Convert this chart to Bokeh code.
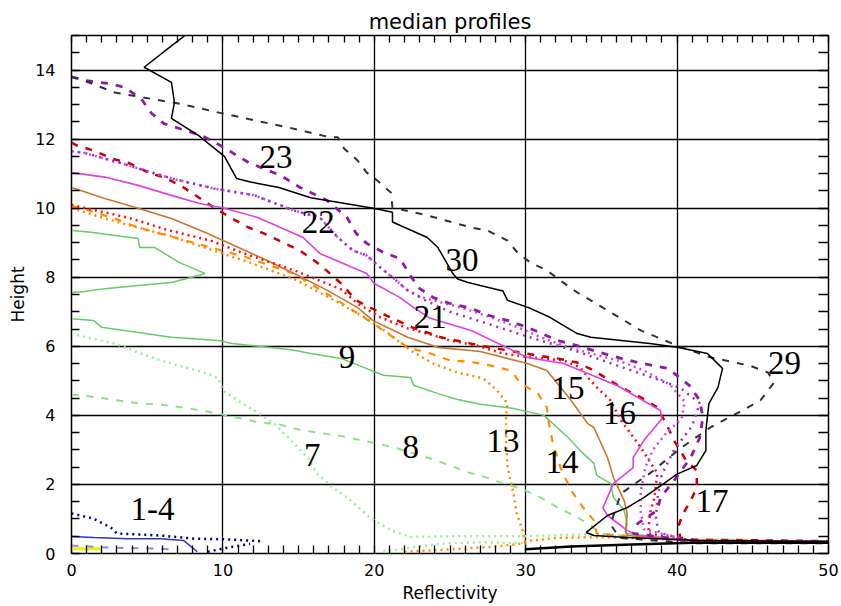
from bokeh.plotting import figure
from bokeh.models import Range1d, LinearAxis, SingleIntervalTicker, FixedTicker
from bokeh.core.properties import value
from bokeh.embed import file_html
from bokeh.resources import INLINE

# ---------------- data ----------------
s30_x = [7.5, 6.6, 4.8, 6.6, 6.8, 6.6, 8.4, 10.1, 10.9, 11.9, 13.7, 15.8, 19.95, 21.2, 21.2, 23.5, 24.2, 25.2, 25.5, 26.2, 27.0, 28.5, 28.8, 30.3, 31.6, 33.4, 34.3, 38.2, 40.0, 42.0, 43.0, 42.7, 42.1, 41.9, 41.9, 41.3, 40.0, 37.8, 36.7, 35.4, 34.0, 34.5, 36.7, 41.5, 50.0]
s30_y = [15.0, 14.7, 14.08, 13.64, 13.06, 12.6, 12.1, 11.5, 10.86, 10.75, 10.6, 10.3, 10.0, 9.88, 9.6, 9.15, 8.86, 8.1, 7.95, 7.85, 7.76, 7.6, 7.33, 7.1, 6.84, 6.37, 6.26, 6.08, 5.97, 5.79, 5.36, 4.81, 4.34, 3.56, 2.98, 2.55, 2.3, 1.62, 1.33, 1.1, 0.61, 0.52, 0.46, 0.38, 0.35]

base_x = [30.0, 33.0, 37.0, 41.0, 50.0]
base_y = [0.12, 0.2, 0.26, 0.31, 0.31]

s29_x = [0.0, 0.46, 2.84, 7.07, 9.4, 12.1, 14.3, 17.1, 17.6, 18.0, 18.9, 19.5, 20.2, 21.1, 21.2, 23.5, 26.4, 27.5, 28.8, 29.5, 30.3, 31.4, 32.3, 33.4, 34.3, 35.4, 36.5, 37.6, 40.0, 42.2, 44.8, 46.0, 46.4, 45.5, 43.7, 42.2, 40.2, 38.2, 36.3, 35.6, 36.2, 41.0, 50.0]
s29_y = [13.8, 13.76, 13.35, 13.03, 12.8, 12.54, 12.34, 12.05, 12.05, 11.73, 11.38, 11.03, 10.8, 10.45, 10.02, 9.79, 9.44, 9.35, 9.06, 8.69, 8.43, 8.2, 7.9, 7.56, 7.33, 7.04, 6.75, 6.46, 6.02, 5.68, 5.44, 5.24, 4.95, 4.43, 4.0, 3.65, 3.04, 2.32, 1.74, 0.85, 0.45, 0.3, 0.3]

s23_x = [0.0, 0.86, 2.44, 3.5, 4.6, 5.3, 6.1, 8.6, 9.9, 11.7, 13.8, 15.1, 16.9, 18.2, 18.8, 19.5, 20.6, 21.7, 22.3, 22.9, 23.9, 25.0, 26.4, 27.5, 28.8, 30.1, 32.1, 33.4, 34.9, 36.3, 37.4, 39.4, 40.8, 41.5, 41.7, 41.5, 40.9, 39.8, 38.9, 38.7, 37.4, 37.1, 41.0, 50.0]
s23_y = [13.8, 13.7, 13.61, 13.5, 13.17, 12.74, 12.45, 12.1, 11.8, 11.32, 10.95, 10.6, 10.22, 9.73, 9.27, 8.98, 8.72, 8.54, 8.11, 7.7, 7.41, 7.24, 7.1, 6.9, 6.75, 6.55, 6.17, 6.02, 5.82, 5.65, 5.53, 5.36, 4.87, 4.43, 3.94, 3.36, 2.78, 2.11, 1.62, 1.25, 0.87, 0.58, 0.36, 0.34]

s22_x = [0.0, 0.86, 3.3, 6.6, 9.4, 12.1, 14.7, 16.4, 17.6, 18.6, 19.5, 20.4, 21.3, 22.2, 23.1, 25.9, 27.7, 29.5, 31.0, 32.5, 34.3, 36.1, 37.8, 39.5, 40.5, 40.3, 39.3, 38.4, 37.9, 37.6, 37.6, 37.8, 41.0, 50.0]
s22_y = [11.65, 11.6, 11.3, 10.86, 10.57, 10.37, 9.93, 9.73, 9.15, 8.77, 8.63, 8.28, 7.96, 7.62, 7.42, 7.1, 6.84, 6.55, 6.26, 6.02, 5.79, 5.59, 5.3, 4.9, 4.4, 3.9, 3.5, 3.0, 2.5, 1.8, 1.2, 0.7, 0.36, 0.34]

s21_x = [0.0, 0.86, 3.3, 6.6, 9.4, 12.1, 14.7, 16.4, 17.6, 18.6, 19.5, 20.4, 21.3, 22.2, 23.5, 25.0, 27.5, 30.0, 33.4, 36.0, 38.0, 40.2, 41.5, 41.0, 39.8, 39.0, 38.7, 38.6, 38.8, 41.0, 50.0]
s21_y = [11.65, 11.6, 11.3, 10.86, 10.57, 10.37, 9.93, 9.73, 9.15, 8.77, 8.63, 8.28, 7.96, 7.62, 7.3, 7.0, 6.65, 6.3, 5.85, 5.45, 5.15, 4.8, 4.35, 3.7, 3.0, 2.3, 1.6, 1.0, 0.6, 0.36, 0.34]

mag_x = [0.0, 2.2, 4.4, 6.6, 8.4, 10.1, 12.3, 15.3, 16.4, 19.5, 20.0, 21.7, 22.6, 23.7, 26.4, 30.1, 32.5, 34.9, 36.1, 38.9, 39.0, 37.8, 37.1, 37.1, 35.8, 35.1, 35.4, 36.7, 37.4, 41.0, 50.0]
mag_y = [11.03, 10.9, 10.66, 10.37, 10.14, 10.0, 9.73, 9.15, 8.69, 8.11, 7.82, 7.41, 7.12, 6.81, 6.46, 5.68, 5.5, 5.07, 4.85, 4.14, 3.9, 3.27, 2.78, 2.49, 2.03, 1.33, 1.1, 0.67, 0.52, 0.37, 0.35]

s17_x = [0.0, 0.33, 1.45, 2.64, 3.83, 5.1, 6.3, 7.4, 8.4, 9.4, 10.6, 11.7, 12.7, 14.0, 15.1, 16.2, 17.1, 17.8, 18.8, 20.5, 22.5, 24.4, 27.0, 30.8, 32.1, 33.4, 34.5, 35.6, 36.7, 37.6, 38.7, 39.4, 39.8, 40.6, 41.3, 41.3, 40.9, 40.4, 40.1, 40.2, 41.1, 50.0]
s17_y = [11.9, 11.82, 11.67, 11.44, 11.3, 11.03, 10.86, 10.6, 10.31, 10.02, 9.7, 9.44, 9.27, 9.0, 8.77, 8.43, 8.1, 7.82, 7.33, 6.95, 6.55, 6.26, 6.02, 5.73, 5.65, 5.53, 5.3, 5.0, 4.72, 4.52, 4.23, 3.65, 3.27, 2.69, 2.4, 1.91, 1.53, 1.16, 0.81, 0.46, 0.4, 0.36]

s16_x = [0.0, 0.13, 3.7, 6.5, 9.2, 11.4, 14.7, 17.8, 18.9, 20.4, 22.2, 23.5, 25.0, 26.8, 28.5, 30.3, 32.5, 33.6, 34.1, 34.7, 35.6, 36.3, 37.6, 38.7, 38.5, 38.2, 38.1, 41.0, 50.0]
s16_y = [10.1, 10.08, 9.73, 9.35, 9.06, 8.69, 8.2, 7.65, 7.24, 6.84, 6.52, 6.37, 6.17, 6.02, 5.79, 5.68, 5.59, 5.39, 5.1, 4.81, 4.43, 3.85, 3.07, 2.32, 1.62, 1.16, 0.58, 0.37, 0.35]

s15_x = [0.0, 2.2, 4.4, 6.6, 8.8, 12.5, 14.7, 16.9, 18.9, 19.9, 22.2, 24.2, 27.0, 30.1, 31.4, 32.1, 33.0, 34.1, 34.5, 35.4, 35.8, 36.5, 36.7, 36.6, 36.7, 41.0, 50.0]
s15_y = [10.6, 10.28, 10.0, 9.7, 9.3, 8.57, 8.11, 7.62, 7.12, 6.75, 6.26, 5.97, 5.85, 5.5, 5.3, 4.92, 4.43, 3.76, 3.65, 2.78, 2.2, 1.53, 1.16, 0.67, 0.52, 0.38, 0.35]

s14_x = [0.0, 0.66, 2.84, 4.4, 9.2, 11.6, 14.7, 17.5, 19.3, 20.6, 22.2, 23.7, 25.0, 26.4, 27.7, 29.0, 29.7, 30.8, 31.4, 31.5, 31.8, 32.3, 33.0, 33.8, 34.5, 34.7, 38.0, 41.0, 50.0]
s14_y = [10.05, 10.0, 9.7, 9.44, 8.86, 8.57, 8.1, 7.35, 6.84, 6.46, 5.97, 5.79, 5.59, 5.55, 5.44, 5.3, 4.92, 4.63, 4.23, 3.85, 3.18, 2.49, 1.82, 1.33, 0.96, 0.58, 0.45, 0.38, 0.35]

s13_x = [0.0, 3.0, 6.5, 9.2, 11.6, 14.7, 17.5, 19.5, 21.0, 22.4, 23.9, 25.5, 27.2, 28.1, 28.8, 28.7, 28.7, 28.8, 29.2, 29.4, 29.8, 29.9, 32.0, 35.0, 41.0, 50.0]
s13_y = [10.0, 9.6, 9.2, 8.8, 8.45, 7.95, 7.3, 6.8, 6.35, 5.88, 5.5, 5.24, 5.07, 4.72, 4.34, 4.0, 3.27, 2.49, 1.74, 1.16, 0.67, 0.35, 0.45, 0.48, 0.38, 0.35]
s13b_x = [22.0, 25.0, 28.0, 30.0]
s13b_y = [0.05, 0.12, 0.2, 0.3]

s9_x = [0.0, 1.45, 2.0, 4.4, 6.6, 9.7, 10.6, 14.5, 15.8, 17.8, 19.3, 20.6, 22.4, 22.6, 24.2, 25.5, 27.0, 29.2, 31.2, 32.8, 33.6, 34.5, 34.7, 35.6, 35.8, 36.5, 36.7, 36.6, 41.0, 50.0]
s9_y = [6.8, 6.75, 6.55, 6.4, 6.26, 6.17, 6.08, 5.9, 5.79, 5.65, 5.39, 5.16, 5.1, 4.87, 4.63, 4.46, 4.32, 4.2, 4.0, 3.36, 2.98, 2.61, 2.26, 2.03, 1.62, 1.25, 0.87, 0.58, 0.38, 0.35]

s10_x = [0.0, 1.3, 2.84, 4.4, 4.5, 5.5, 7.1, 8.8, 8.4, 6.6, 4.4, 2.2, 0.86, 0.0]
s10_y = [9.35, 9.3, 9.21, 9.12, 8.86, 8.86, 8.43, 8.11, 8.05, 7.85, 7.76, 7.67, 7.59, 7.56]

s8_x = [0.0, 0.66, 2.2, 3.5, 4.6, 5.9, 7.3, 8.6, 9.9, 11.2, 12.5, 13.7, 14.7, 16.2, 17.6, 19.9, 21.3, 22.6, 23.7, 25.0, 26.2, 27.0, 28.3, 29.7, 31.0, 32.1, 33.2, 34.3, 34.9, 38.0, 41.0, 50.0]
s8_y = [4.6, 4.58, 4.49, 4.4, 4.34, 4.31, 4.23, 4.14, 4.03, 3.91, 3.79, 3.74, 3.62, 3.5, 3.42, 3.21, 3.07, 2.9, 2.75, 2.55, 2.35, 2.26, 2.06, 1.88, 1.62, 1.33, 1.1, 0.81, 0.58, 0.45, 0.38, 0.35]

s7_x = [0.0, 1.3, 2.84, 4.4, 5.9, 7.5, 9.0, 9.7, 10.0, 11.0, 12.3, 13.4, 14.7, 15.6, 16.2, 17.1, 18.2, 19.7, 21.1, 22.4, 26.0, 30.0, 34.1, 36.0]
s7_y = [6.37, 6.23, 6.08, 5.82, 5.59, 5.39, 5.21, 5.07, 4.72, 4.43, 4.08, 3.76, 3.18, 2.78, 2.32, 1.97, 1.62, 1.04, 0.67, 0.48, 0.5, 0.5, 0.56, 0.5]
s7b_x = [20.6, 22.4, 24.6, 27.0, 30.0]
s7b_y = [0.05, 0.17, 0.29, 0.32, 0.3]

s1_x = [0.0, 1.45, 2.6, 3.0, 5.9, 8.1, 10.3, 12.7]
s1_y = [1.16, 1.01, 0.75, 0.58, 0.52, 0.43, 0.41, 0.35]
s1b_x = [9.0, 10.3, 11.8]
s1b_y = [0.05, 0.17, 0.28]
s2_x = [0.0, 1.45, 3.7, 5.9, 7.4, 8.3]
s2_y = [0.49, 0.46, 0.43, 0.43, 0.38, 0.05]
s3_x = [0.0, 2.6, 5.9, 6.5]
s3_y = [0.23, 0.17, 0.14, 0.12]
s4_x = [0.0, 2.0]
s4_y = [0.14, 0.14]

lab_text = ["23", "22", "30", "21", "9", "15", "16", "29", "13", "8", "7", "14", "17", "1-4"]
lab_x = [13.5, 16.3, 25.8, 23.7, 18.2, 32.8, 36.2, 47.1, 28.5, 22.4, 15.9, 32.4, 42.3, 5.35]
lab_y = [11.47, 9.59, 8.49, 6.86, 5.68, 4.78, 4.08, 5.53, 3.27, 3.07, 2.84, 2.64, 1.53, 1.3]

# tick positions
x_minor = [float(v) for v in range(0, 51)]
y_minor = [v * 0.5 for v in range(0, 31)]

# ---------------- figure ----------------
p = figure(width=841, height=606, x_range=Range1d(0, 50), y_range=Range1d(0, 15),
           output_backend="svg", toolbar_location=None, title="median profiles",
           min_border_left=71, min_border_right=13, min_border_top=35, min_border_bottom=53)
p.title.align = "center"
p.title.text_font = "DejaVu Sans"
p.title.text_font_size = "21px"
p.title.text_font_style = "normal"
p.title.text_color = "black"
p.title.standoff = 4
p.outline_line_color = "black"
p.outline_line_width = 1.5
p.background_fill_color = "white"
p.border_fill_color = "white"

xt = SingleIntervalTicker(interval=10, num_minor_ticks=10)
yt = SingleIntervalTicker(interval=2, num_minor_ticks=4)

for ax in p.xaxis:
    ax.ticker = xt
    ax.axis_label = "Reflectivity"
    ax.major_label_standoff = 10
    ax.axis_label_standoff = 4
for ax in p.yaxis:
    ax.ticker = yt
    ax.axis_label = "Height"
    ax.major_label_standoff = 16
    ax.axis_label_standoff = 4

for ax in list(p.xaxis) + list(p.yaxis):
    ax.major_label_text_font = "DejaVu Sans"
    ax.major_label_text_font_size = "16px"
    ax.major_label_text_color = "black"
    ax.axis_label_text_font = "DejaVu Sans"
    ax.axis_label_text_font_size = "17px"
    ax.axis_label_text_font_style = "normal"
    ax.axis_label_text_color = "black"
    ax.axis_line_color = "black"
    ax.major_tick_in = 0
    ax.major_tick_out = 0
    ax.minor_tick_in = 8
    ax.minor_tick_out = 0
    ax.minor_tick_line_color = "black"
    ax.minor_tick_line_width = 1.3

top_ax = LinearAxis(ticker=FixedTicker(ticks=[], minor_ticks=x_minor),
                    major_tick_in=0, major_tick_out=0, minor_tick_in=7, minor_tick_out=0,
                    minor_tick_line_color="black", minor_tick_line_width=1.3, axis_line_color="black")
right_ax = LinearAxis(ticker=FixedTicker(ticks=[], minor_ticks=y_minor),
                      major_tick_in=0, major_tick_out=0, minor_tick_in=10, minor_tick_out=0,
                      minor_tick_line_color="black", minor_tick_line_width=1.3, axis_line_color="black")
p.add_layout(top_ax, "above")
p.add_layout(right_ax, "right")

p.xgrid.ticker = xt
p.ygrid.ticker = yt
for g in (p.xgrid, p.ygrid):
    g.grid_line_color = "black"
    g.grid_line_width = 1.3
    g.grid_line_alpha = 1.0

# ---------------- lines ----------------
DOT = "2 4"
DASH = "7 8"
p.line(s4_x, s4_y, line_color="#f0f000", line_width=3)
p.line(s3_x, s3_y, line_color="#8c8ce0", line_width=2, line_dash=DASH)
p.line(s2_x, s2_y, line_color="#3434c4", line_width=1.5)
p.line(s1_x, s1_y, line_color="#000080", line_width=2.5, line_dash=DOT)
p.line(s1b_x, s1b_y, line_color="#000080", line_width=2.5, line_dash=DOT)

p.line(s7_x, s7_y, line_color="#9cee9c", line_width=2.5, line_dash=DOT)
p.line(s7b_x, s7b_y, line_color="#9cee9c", line_width=2.5, line_dash=DOT)
p.line(s8_x, s8_y, line_color="#90e090", line_width=2, line_dash=DASH)
p.line(s10_x, s10_y, line_color="#66cc66", line_width=1.5)
p.line(s9_x, s9_y, line_color="#66cc66", line_width=1.5)

p.line(s13_x, s13_y, line_color="#ff8c00", line_width=2.5, line_dash=DOT)
p.line(s13b_x, s13b_y, line_color="#ff8c00", line_width=2.5, line_dash=DOT)
p.line(s14_x, s14_y, line_color="#ff8c00", line_width=2.2, line_dash=DASH)
p.line(s15_x, s15_y, line_color="#c8782e", line_width=1.6)

p.line(s16_x, s16_y, line_color="#ff1010", line_width=2.5, line_dash=DOT)
p.line(s17_x, s17_y, line_color="#cc0000", line_width=2.5, line_dash=DASH)

p.line(mag_x, mag_y, line_color="#e040e0", line_width=1.6)
p.line(s22_x, s22_y, line_color="#c050e0", line_width=2.5, line_dash=DOT)
p.line(s21_x, s21_y, line_color="#9a30c8", line_width=2.5, line_dash="2 5")
p.line(s23_x, s23_y, line_color="#8e1ca0", line_width=2.8, line_dash=DASH)

p.line(s29_x, s29_y, line_color="#303042", line_width=2, line_dash=DASH)
p.line(base_x, base_y, line_color="black", line_width=2.5)
p.line(s30_x, s30_y, line_color="black", line_width=1.5)

p.text(x=lab_x, y=lab_y, text=lab_text, text_font=value("Liberation Serif"),
       text_font_size="33px", text_align="center", text_baseline="middle", text_color="black")

open("out.html", "w").write(file_html(p, INLINE))
